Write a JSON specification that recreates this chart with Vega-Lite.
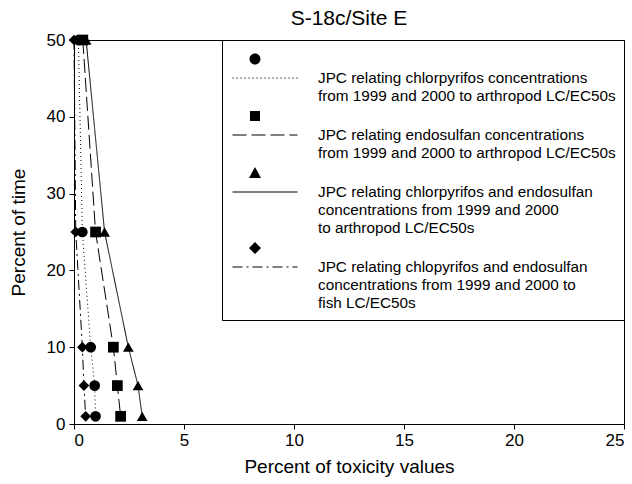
{
  "$schema": "https://vega.github.io/schema/vega-lite/v6.json",
  "width": 550,
  "height": 384,
  "autosize": {"type": "none"},
  "padding": {"left": 74, "top": 40, "right": 8, "bottom": 60},
  "title": {"text": "S-18c/Site E", "font": "Liberation Sans", "fontSize": 21, "fontWeight": "normal", "color": "black", "offset": 2},
  "config": {
    "view": {"stroke": "black", "strokeWidth": 1},
    "axis": {"grid": false, "domainColor": "black", "tickColor": "black", "labelColor": "black", "titleColor": "black", "labelFont": "Liberation Sans", "titleFont": "Liberation Sans", "labelFontSize": 17, "titleFontSize": 19, "titleFontWeight": "normal", "tickSize": 5}
  },
  "data": {"values": [
    {"series": "JPC relating chlorpyrifos concentrations\nfrom 1999 and 2000 to arthropod LC/EC50s", "toxicity": 0.2, "time": 50},
    {"series": "JPC relating chlorpyrifos concentrations\nfrom 1999 and 2000 to arthropod LC/EC50s", "toxicity": 0.38, "time": 25},
    {"series": "JPC relating chlorpyrifos concentrations\nfrom 1999 and 2000 to arthropod LC/EC50s", "toxicity": 0.76, "time": 10},
    {"series": "JPC relating chlorpyrifos concentrations\nfrom 1999 and 2000 to arthropod LC/EC50s", "toxicity": 0.94, "time": 5},
    {"series": "JPC relating chlorpyrifos concentrations\nfrom 1999 and 2000 to arthropod LC/EC50s", "toxicity": 0.98, "time": 1},
    {"series": "JPC relating endosulfan concentrations\nfrom 1999 and 2000 to arthropod LC/EC50s", "toxicity": 0.4, "time": 50},
    {"series": "JPC relating endosulfan concentrations\nfrom 1999 and 2000 to arthropod LC/EC50s", "toxicity": 0.98, "time": 25},
    {"series": "JPC relating endosulfan concentrations\nfrom 1999 and 2000 to arthropod LC/EC50s", "toxicity": 1.79, "time": 10},
    {"series": "JPC relating endosulfan concentrations\nfrom 1999 and 2000 to arthropod LC/EC50s", "toxicity": 1.97, "time": 5},
    {"series": "JPC relating endosulfan concentrations\nfrom 1999 and 2000 to arthropod LC/EC50s", "toxicity": 2.12, "time": 1},
    {"series": "JPC relating chlorpyrifos and endosulfan\nconcentrations from 1999 and 2000\nto arthropod LC/EC50s", "toxicity": 0.55, "time": 50},
    {"series": "JPC relating chlorpyrifos and endosulfan\nconcentrations from 1999 and 2000\nto arthropod LC/EC50s", "toxicity": 1.39, "time": 25},
    {"series": "JPC relating chlorpyrifos and endosulfan\nconcentrations from 1999 and 2000\nto arthropod LC/EC50s", "toxicity": 2.47, "time": 10},
    {"series": "JPC relating chlorpyrifos and endosulfan\nconcentrations from 1999 and 2000\nto arthropod LC/EC50s", "toxicity": 2.91, "time": 5},
    {"series": "JPC relating chlorpyrifos and endosulfan\nconcentrations from 1999 and 2000\nto arthropod LC/EC50s", "toxicity": 3.1, "time": 1},
    {"series": "JPC relating chlopyrifos and endosulfan\nconcentrations from 1999 and 2000 to\nfish LC/EC50s", "toxicity": 0.0, "time": 50},
    {"series": "JPC relating chlopyrifos and endosulfan\nconcentrations from 1999 and 2000 to\nfish LC/EC50s", "toxicity": 0.08, "time": 25},
    {"series": "JPC relating chlopyrifos and endosulfan\nconcentrations from 1999 and 2000 to\nfish LC/EC50s", "toxicity": 0.38, "time": 10},
    {"series": "JPC relating chlopyrifos and endosulfan\nconcentrations from 1999 and 2000 to\nfish LC/EC50s", "toxicity": 0.45, "time": 5},
    {"series": "JPC relating chlopyrifos and endosulfan\nconcentrations from 1999 and 2000 to\nfish LC/EC50s", "toxicity": 0.53, "time": 1}
  ]},
  "encoding": {
    "x": {"field": "toxicity", "type": "quantitative", "title": "Percent of toxicity values",
          "scale": {"domain": [0, 25], "nice": false},
          "axis": {"values": [0, 5, 10, 15, 20, 25], "titlePadding": 9, "labelPadding": 3}},
    "y": {"field": "time", "type": "quantitative", "title": "Percent of time",
          "scale": {"domain": [0, 50], "nice": false},
          "axis": {"values": [0, 10, 20, 30, 40, 50], "titlePadding": 18, "labelPadding": 4}}
  },
  "layer": [
    {
      "mark": {"type": "line", "color": "black", "strokeWidth": 1},
      "encoding": {
        "strokeDash": {"field": "series", "type": "nominal", "sort": null, "legend": null,
                       "scale": {"range": [[1, 3], [14, 5], [1, 0], [10, 4, 2, 4]]}}
      }
    },
    {
      "mark": {"type": "point", "filled": true, "color": "black", "opacity": 1, "size": 115},
      "encoding": {
        "shape": {"field": "series", "type": "nominal", "sort": null, "legend": null,
                  "scale": {"range": ["circle", "square", "triangle-up", "diamond"]}}
      }
    },
    {
      "mark": {"type": "point", "filled": true, "color": "black", "opacity": 0},
      "encoding": {
        "shape": {"field": "series", "type": "nominal", "sort": null,
                  "scale": {"range": [
                    "M-0.51667,-0.63333A0.18333,0.18333,0,1,1,-0.15,-0.63333A0.18333,0.18333,0,1,1,-0.51667,-0.63333ZM-1.08333,-0.02h0.04v0.04h-0.04zM-0.95,-0.02h0.04v0.04h-0.04zM-0.81667,-0.02h0.04v0.04h-0.04zM-0.68333,-0.02h0.04v0.04h-0.04zM-0.55,-0.02h0.04v0.04h-0.04zM-0.41667,-0.02h0.04v0.04h-0.04zM-0.28333,-0.02h0.04v0.04h-0.04zM-0.15,-0.02h0.04v0.04h-0.04zM-0.01667,-0.02h0.04v0.04h-0.04zM0.11667,-0.02h0.04v0.04h-0.04zM0.25,-0.02h0.04v0.04h-0.04zM0.38333,-0.02h0.04v0.04h-0.04zM0.51667,-0.02h0.04v0.04h-0.04zM0.65,-0.02h0.04v0.04h-0.04zM0.78333,-0.02h0.04v0.04h-0.04zM0.91667,-0.02h0.04v0.04h-0.04zM1.05,-0.02h0.04v0.04h-0.04z",
                    "M-0.5,-0.8H-0.16667V-0.46667H-0.5ZM-1.08333,-0.02H-0.61667V0.02H-1.08333ZM-0.45,-0.02H0.01667V0.02H-0.45ZM0.18333,-0.02H0.65V0.02H0.18333ZM0.81667,-0.02H1.08333V0.02H0.81667Z",
                    "M-0.33333,-0.83333L-0.13333,-0.46667L-0.53333,-0.46667ZM-1.08333,-0.02H1.08333V0.02H-1.08333Z",
                    "M-0.33333,-0.83333L-0.13333,-0.63333L-0.33333,-0.43333L-0.53333,-0.63333ZM-1.08333,-0.02H-0.75V0.02H-1.08333ZM-0.61667,-0.02H-0.55V0.02H-0.61667ZM-0.41667,-0.02H-0.08333V0.02H-0.41667ZM0.05,-0.02H0.11667V0.02H0.05ZM0.25,-0.02H0.58333V0.02H0.25ZM0.71667,-0.02H0.78333V0.02H0.71667ZM0.91667,-0.02H1.08333V0.02H0.91667Z"
                  ]},
                  "legend": {
                    "title": null,
                    "orient": "none", "legendX": 148, "legendY": 0,
                    "strokeColor": "black", "fillColor": "white", "padding": 8, "cornerRadius": 0,
                    "symbolSize": 3600, "symbolOffset": 5, "symbolStrokeWidth": 0, "symbolFillColor": "black", "symbolOpacity": 1,
                    "labelFont": "Liberation Sans", "labelFontSize": 15.3, "labelColor": "black", "labelOffset": 23, "labelLimit": 0,
                    "labelExpr": "split(datum.label, '\\n')", "rowPadding": -1,
                    "encoding": {"labels": {"lineHeight": {"value": 18}}}
                  }}
      }
    }
  ],
  "resolve": {"scale": {"shape": "independent"}, "legend": {"shape": "independent"}}
}
